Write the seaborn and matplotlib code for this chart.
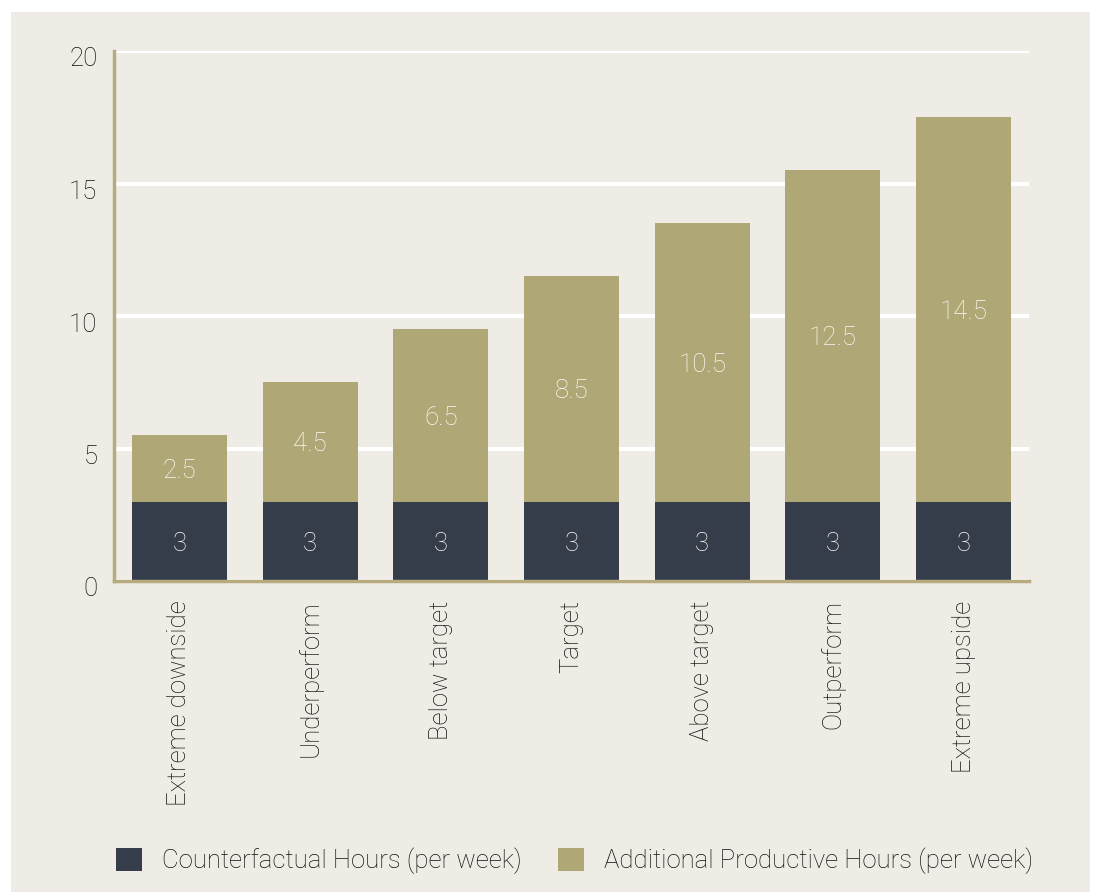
import matplotlib
matplotlib.use("Agg")
import matplotlib.pyplot as plt
import matplotlib.transforms as mtransforms
from matplotlib.patches import Rectangle, Patch
import seaborn as sns
import pandas as pd

# Scenario data (hours per week)
scenarios = ["Extreme downside", "Underperform", "Below target", "Target",
             "Above target", "Outperform", "Extreme upside"]
counterfactual = [3, 3, 3, 3, 3, 3, 3]
additional = [2.5, 4.5, 6.5, 8.5, 10.5, 12.5, 14.5]
y_ticks = [0, 5, 10, 15, 20]

series_names = ["Counterfactual Hours (per week)", "Additional Productive Hours (per week)"]

DARK = "#363d4a"
OLIVE = "#b0a776"
SPINE = "#b5ab7e"
PANEL = "#efece6"
TEXT = "#111111"
LABEL = "#fbfaf5"
FS = 18.5

sns.set_theme(style="white")
plt.rcParams["font.family"] = ["Roboto", "DejaVu Sans"]
plt.rcParams["font.weight"] = "light"

df = pd.DataFrame({
    "scenario": scenarios,
    "counterfactual": counterfactual,
    "additional": additional,
})
df["total"] = df["counterfactual"] + df["additional"]

fig = plt.figure(figsize=(10.93, 8.92), dpi=100, facecolor="white")
fig.patches.append(Rectangle((11 / 1093, 0), (1090 - 11) / 1093, 1 - 12 / 892,
                             transform=fig.transFigure, facecolor=PANEL,
                             edgecolor="none", zorder=-10))

ax = fig.add_axes([114 / 1093, 1 - 581 / 892, (1029 - 114) / 1093, (581 - 51) / 892])
ax.set_facecolor(PANEL)

# Stacked bars: full height in olive, counterfactual base in dark on top of it
sns.barplot(data=df, x="scenario", y="total", color=OLIVE, width=0.727,
            saturation=1, ax=ax, zorder=3, edgecolor="none", linewidth=0)
sns.barplot(data=df, x="scenario", y="counterfactual", color=DARK, width=0.727,
            saturation=1, ax=ax, zorder=4, edgecolor="none", linewidth=0)

for i, (c, a) in enumerate(zip(counterfactual, additional)):
    ax.text(i, c / 2, f"{c:g}", ha="center", va="center_baseline", color=LABEL,
            fontsize=FS, fontweight="light", zorder=5)
    ax.text(i, c + a / 2, f"{a:g}", ha="center", va="center_baseline", color=LABEL,
            fontsize=FS, fontweight="light", zorder=5)

ax.set_xlim(-0.5, len(scenarios) - 0.5)
ax.set_ylim(0, 20)
ax.set_yticks(y_ticks)
ax.yaxis.grid(True, color="white", linewidth=3, zorder=1)
ax.xaxis.grid(False)
ax.set_axisbelow(True)

ax.set_xlabel("")
ax.set_ylabel("")
ax.tick_params(axis="y", length=0, pad=12, labelsize=FS, labelcolor=TEXT)
ax.tick_params(axis="x", length=0, pad=14, labelsize=FS, labelcolor=TEXT)
ax.set_xticks(range(len(scenarios)))
ax.set_xticklabels(scenarios, rotation=90, va="top", ha="center")

# y tick labels sit slightly below their gridlines
shift = mtransforms.ScaledTranslation(0, -0.06, fig.dpi_scale_trans)
for lbl in ax.get_yticklabels():
    lbl.set_transform(lbl.get_transform() + shift)

for side in ["top", "right"]:
    ax.spines[side].set_visible(False)
for side in ["left", "bottom"]:
    ax.spines[side].set_color(SPINE)
    ax.spines[side].set_linewidth(2.5)
    ax.spines[side].set_zorder(6)

handles = [Patch(facecolor=DARK, edgecolor="none"),
           Patch(facecolor=OLIVE, edgecolor="none")]
fig.legend(handles, series_names, loc="center left",
           bbox_to_anchor=(93 / 1093, 1 - 861 / 892), ncol=2, frameon=False,
           fontsize=FS, handlelength=1.0, handleheight=1.0, handletextpad=0.8,
           columnspacing=1.4, labelcolor=TEXT)

fig.savefig("out.png", dpi=100, facecolor="white")
